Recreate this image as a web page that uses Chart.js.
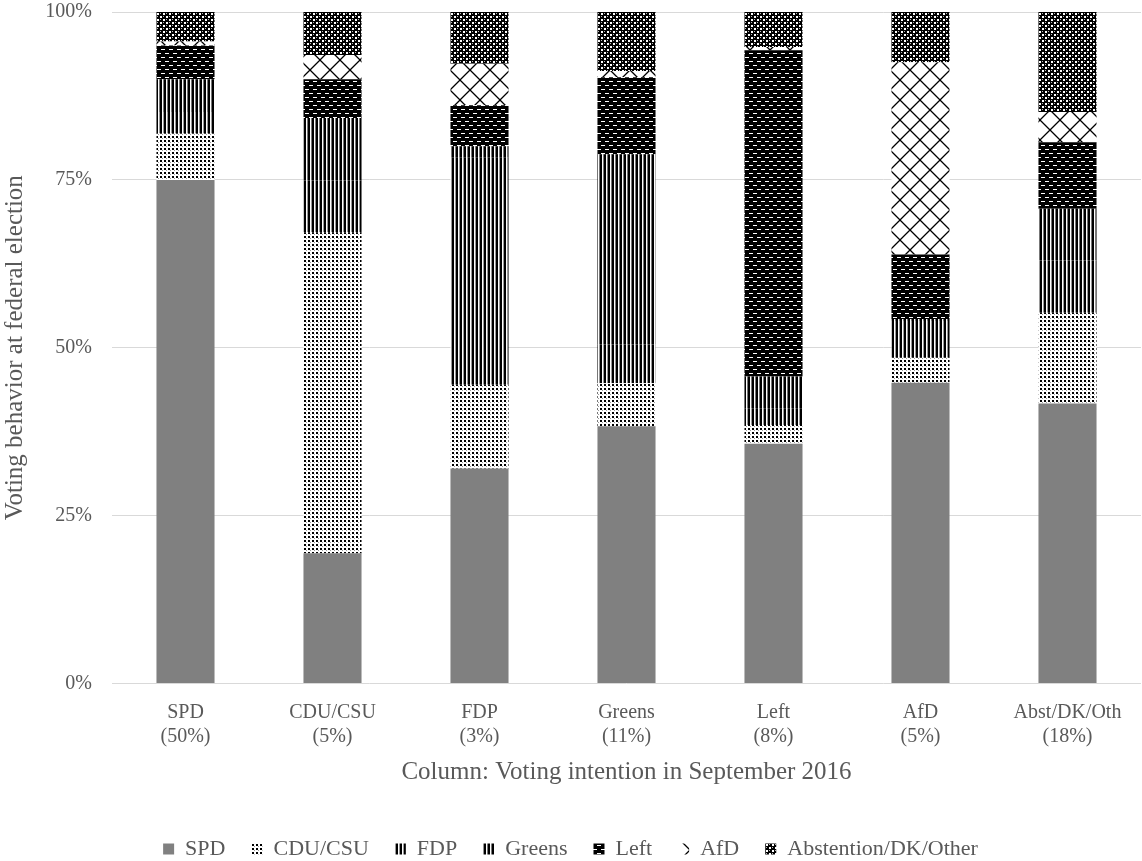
<!DOCTYPE html>
<html>
<head>
<meta charset="utf-8">
<script src="https://cdn.jsdelivr.net/npm/chart.js@4/dist/chart.umd.min.js"></script>
<style>
html,body{margin:0;padding:0;background:#fff;}
#wrap{width:1142px;height:861px;}
</style>
</head>
<body>
<div id="wrap"><canvas id="c" width="1142" height="861"></canvas></div>
<script>
// Columns: voting intention in September 2016
const categories = [["SPD","(50%)"],["CDU/CSU","(5%)"],["FDP","(3%)"],["Greens","(11%)"],["Left","(8%)"],["AfD","(5%)"],["Abst/DK/Oth","(18%)"]];
const seriesNames = ["SPD","CDU/CSU","FDP","Greens","Left","AfD","Abstention/DK/Other"];
// Voting behavior at federal election (% of each column)
const spd    = [75.0, 19.4, 32.0, 38.3, 35.7, 44.8, 41.7];
const cdu    = [ 6.9, 47.8, 12.5,  6.4,  2.8,  3.7, 13.5];
const fdp    = [ 3.2,  7.7, 33.8,  5.8,  2.5,  5.5,  7.8];
const greens = [ 4.9,  9.3,  1.7, 28.3,  4.7,  0.3,  7.7];
const left   = [ 5.0,  5.8,  6.1, 11.5, 48.6,  9.6,  9.9];
const afd    = [ 0.6,  3.6,  6.2,  0.9,  0.5, 28.6,  4.5];
const abst   = [ 4.4,  6.4,  7.7,  8.8,  5.2,  7.5, 14.9];
const yTicks = [0, 25, 50, 75, 100];

const ctx = document.getElementById('c').getContext('2d');

function makePattern(w, h, draw) {
  const c = document.createElement('canvas');
  c.width = w; c.height = h;
  const g = c.getContext('2d');
  draw(g, w, h);
  return ctx.createPattern(c, 'repeat');
}
const patSPD = '#808080';
const patCDU = makePattern(4, 4, (g) => {
  g.fillStyle = '#fff'; g.fillRect(0, 0, 4, 4);
  g.fillStyle = '#000'; g.fillRect(0, 0, 2, 2);
  g.fillStyle = '#9a9a9a'; g.fillRect(2, 2, 1, 1);
});
const patFDP = makePattern(4, 1, (g) => {
  g.fillStyle = '#fff'; g.fillRect(0, 0, 4, 1);
  g.fillStyle = '#000'; g.fillRect(0, 0, 2, 1);
  g.fillStyle = '#9a9a9a'; g.fillRect(3, 0, 1, 1);
});
const patGreens = makePattern(4, 1, (g) => {
  g.fillStyle = '#fff'; g.fillRect(0, 0, 4, 1);
  g.fillStyle = '#000'; g.fillRect(0, 0, 2, 1);
  g.fillStyle = '#777'; g.fillRect(3, 0, 1, 1);
});
const patLeft = makePattern(8, 8, (g) => {
  g.fillStyle = '#000'; g.fillRect(0, 0, 8, 8);
  g.fillStyle = '#fff';
  g.fillRect(1, 1, 4, 1);
  g.fillRect(5, 5, 3, 1); g.fillRect(0, 5, 1, 1);
});
const patAfD = makePattern(20, 20, (g) => {
  g.fillStyle = '#fff'; g.fillRect(0, 0, 20, 20);
  g.strokeStyle = '#000'; g.lineWidth = 1.3;
  g.beginPath();
  g.moveTo(-1, -1); g.lineTo(21, 21);
  g.moveTo(21, -1); g.lineTo(-1, 21);
  g.stroke();
});
const patAbst = makePattern(6, 6, (g) => {
  g.fillStyle = '#000'; g.fillRect(0, 0, 6, 6);
  g.fillStyle = '#fff';
  g.fillRect(1, 1, 2, 2); g.fillRect(4, 4, 2, 2);
  g.fillStyle = '#bbb';
  g.fillRect(4, 1, 1, 1); g.fillRect(1, 4, 1, 1);
});

const values = [spd, cdu, fdp, greens, left, afd, abst];
const fills = [patSPD, patCDU, patFDP, patGreens, patLeft, patAfD, patAbst];

const FONT = '"Liberation Serif", "Times New Roman", serif';
const TXT = '#595959';

new Chart(ctx, {
  type: 'bar',
  data: {
    labels: categories,
    datasets: seriesNames.map((n, i) => ({
      label: n,
      data: values[i],
      backgroundColor: fills[i],
      borderWidth: 0,
      categoryPercentage: 1.0,
      barPercentage: 0.395
    }))
  },
  options: {
    responsive: false,
    devicePixelRatio: 1,
    animation: false,
    layout: { padding: { top: 0, right: 1, left: 0, bottom: -9 } },
    plugins: {
      legend: {
        position: 'bottom',
        labels: {
          font: { family: FONT, size: 22 },
          color: TXT,
          boxWidth: 11,
          boxHeight: 11,
          padding: 26
        }
      },
      tooltip: { enabled: false }
    },
    scales: {
      x: {
        stacked: true,
        grid: { display: false },
        border: { display: false },
        ticks: { font: { family: FONT, size: 20 }, color: TXT, padding: 9, maxRotation: 0 },
        title: { display: true, text: 'Column: Voting intention in September 2016', font: { family: FONT, size: 25 }, color: TXT, padding: { top: 4, bottom: 25 } },
        afterFit: (s) => { s.height = 128.5; }
      },
      y: {
        stacked: true,
        min: 0, max: 100,
        afterBuildTicks: (s) => { s.ticks = yTicks.map(v => ({ value: v })); },
        grid: { color: '#d9d9d9', lineWidth: 1, drawTicks: true, tickLength: 20, tickColor: 'rgba(0,0,0,0)' },
        border: { display: false },
        ticks: { font: { family: FONT, size: 20 }, color: TXT, padding: 0, callback: (v) => v + '%' },
        title: { display: true, text: 'Voting behavior at federal election', font: { family: FONT, size: 25 }, color: TXT, padding: { top: 0, bottom: 4 } },
        afterFit: (s) => { s.width = 112; }
      }
    }
  }
});
</script>
</body>
</html>
